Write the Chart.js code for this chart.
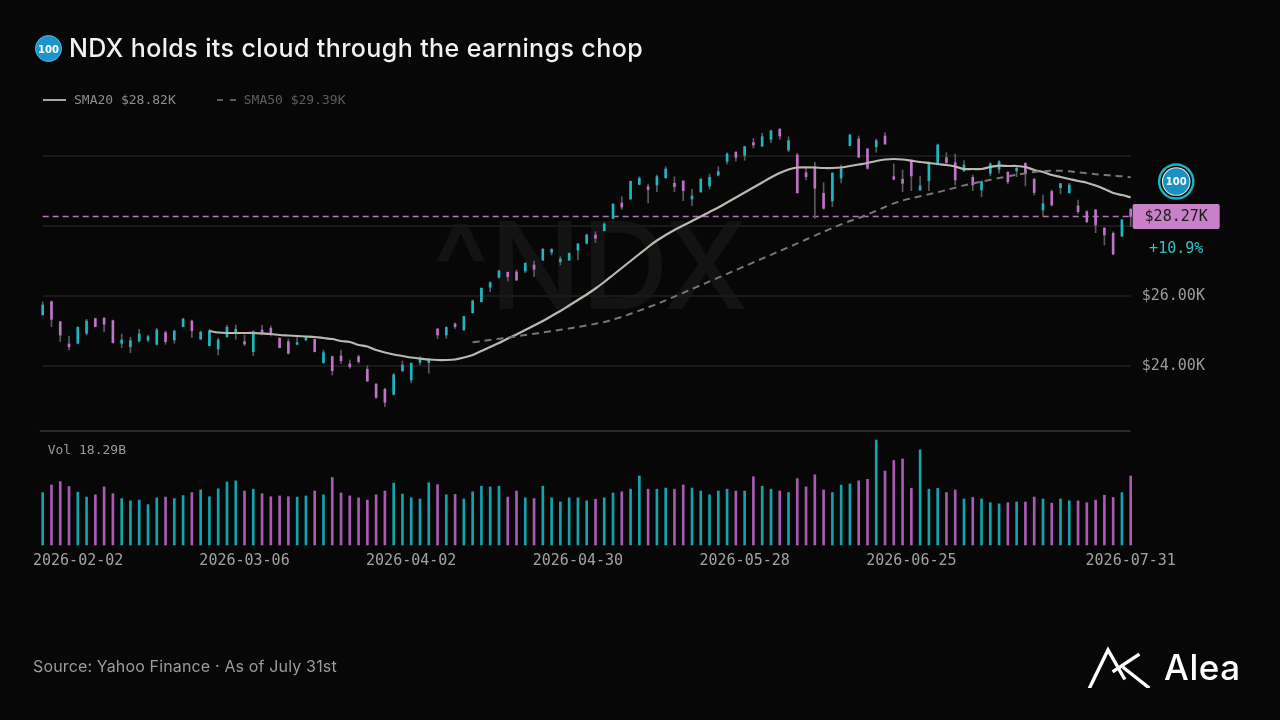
<!DOCTYPE html>
<html>
<head>
<meta charset="utf-8">
<script src="https://cdn.jsdelivr.net/npm/chart.js@4.4.1/dist/chart.umd.min.js"></script>
<style>
  html, body { margin: 0; padding: 0; background: #070707; }
  body { width: 1280px; height: 720px; position: relative; overflow: hidden; font-family: Inter, sans-serif; }
  #wm { position: absolute; left: 432px; top: 205px; font: 500 121px/1 Inter, sans-serif; color: #131313; letter-spacing: 0; }
  #c { position: absolute; left: 0; top: 0; }
  #title { position: absolute; left: 35px; top: 35px; font: 500 25px/25px Inter, sans-serif; letter-spacing: 0.4px; color: #f2f2f2; display: flex; align-items: center; }
  .ico { display: inline-block; width: 27px; height: 27px; border-radius: 50%; background: #1a96cc; border: 1px solid #56b8de;
         color: #fff; font: 700 10px/27px "DejaVu Sans", sans-serif; letter-spacing: 0; text-align: center; margin-right: 7px; box-sizing: border-box; }
  #legend { position: absolute; left: 43px; top: 92px; font: 13px/16px "DejaVu Sans Mono", monospace; display: flex; align-items: center; }
  #legend .sw { display: inline-block; width: 23px; height: 0; margin-right: 8px; }
  #legend .item { display: flex; align-items: center; margin-right: 41px; }
  #source { position: absolute; left: 33px; top: 656px; font: 16px/20px Inter, sans-serif; letter-spacing: 0.15px; color: #9b9b9b; }
  #brand { position: absolute; left: 1086px; top: 645px; display: flex; align-items: center; color: #fff; font: 500 35px/44px Inter, sans-serif; letter-spacing: 0.6px; }
  #brand svg { margin-right: 12px; }
</style>
</head>
<body>
<div id="wm">^NDX</div>
<canvas id="c" width="1280" height="720"></canvas>
<div id="title"><span class="ico">100</span><span id="titleText"></span></div>
<div id="legend"></div>
<div id="source"></div>
<div id="brand"><svg width="66" height="42" viewBox="0 0 66 42"><g stroke="#fff" stroke-width="3.4" fill="none" stroke-linecap="square">
  <path d="M4 41 L22 4 L38 32"/><path d="M28 25 L52 9"/><path d="M38 22 L62 41"/></g></svg>Alea</div>
<script>
"use strict";

var titleText = 'NDX holds its cloud through the earnings chop';
var sourceText = 'Source: Yahoo Finance \u00b7 As of July 31st';
var firstDay = '2026-02-02';
var lastDay = '2026-07-31';
var holidays = ['2026-02-16', '2026-04-03', '2026-05-25', '2026-06-19', '2026-07-03'];
var tickDates = ['2026-02-02', '2026-03-06', '2026-04-02', '2026-04-30', '2026-05-28', '2026-06-25', '2026-07-31'];
var priceTicks = [24000, 26000, 28000, 30000];
var labelledTicks = [24000, 26000];
var periodChange = 10.9;

// OHLC, one value per trading day
var opens = [
	25466, 25837, 25266, 24629, 24649, 24935, 25352, 25363, 25295, 24649,
	24552, 24715, 24743, 24620, 24952, 24743, 25123, 25286, 24772, 24580,
	24486, 24838, 24935, 24695, 24409, 25029, 25077, 24792, 24695, 24620,
	24743, 24763, 24095, 24266, 24286, 24057, 24266, 23906, 23486, 23335,
	23192, 23866, 23600, 24106, 24095, 25057, 24886, 25200, 25040, 25523,
	25837, 26249, 26535, 26677, 26686, 26715, 26886, 27029, 27249, 26980,
	27029, 27314, 27506, 27743, 27866, 28220, 28657, 28772, 29192, 29123,
	29172, 29380, 29220, 29286, 28772, 28980, 29143, 29457, 29849, 30106,
	30020, 30380, 30286, 30477, 30763, 30172, 30029, 29523, 29694, 28934,
	28715, 29372, 30295, 30486, 30200, 30266, 30572, 29409, 29335, 29866,
	29029, 29294, 29792, 29952, 29809, 29580, 29392, 29029, 29506, 29620,
	29534, 29580, 29792, 29335, 28457, 28986, 29094, 28952, 28572, 28409,
	28457, 27934, 27792, 27714, 28477
];
var highs = [
	25837, 25857, 25270, 24857, 25123, 25335, 25366, 25392, 25315, 24915,
	24820, 25049, 24886, 25077, 25000, 25029, 25363, 25315, 25000, 25049,
	24792, 25172, 25172, 24886, 25009, 25172, 25143, 24810, 24772, 24810,
	24838, 24772, 24457, 24286, 24457, 24172, 24315, 24009, 23490, 23363,
	23792, 24143, 24095, 24266, 24220, 25077, 25123, 25237, 25429, 25886,
	26237, 26409, 26743, 26686, 26743, 26952, 26997, 27363, 27352, 27123,
	27237, 27506, 27772, 27837, 28095, 28649, 28837, 29286, 29409, 29200,
	29457, 29694, 29409, 29294, 29049, 29363, 29486, 29694, 30089, 30123,
	30286, 30506, 30649, 30743, 30792, 30552, 30077, 29649, 29820, 29237,
	29534, 29743, 30620, 30572, 30220, 30486, 30666, 29772, 29600, 29886,
	29429, 29837, 30343, 30095, 30057, 29866, 29457, 29294, 29809, 29866,
	29552, 29694, 29809, 29363, 28886, 29029, 29220, 29220, 28743, 28437,
	28477, 27963, 27837, 28192, 28506
];
var lows = [
	25443, 25123, 24695, 24457, 24640, 24886, 25115, 24980, 24649, 24523,
	24380, 24686, 24686, 24600, 24620, 24649, 25115, 24820, 24743, 24572,
	24315, 24820, 24763, 24580, 24300, 24886, 24857, 24515, 24343, 24600,
	24723, 24400, 24077, 23743, 24077, 23935, 24077, 23552, 23077, 22837,
	23172, 23838, 23523, 24029, 23792, 24780, 24792, 25077, 25009, 25506,
	25829, 26123, 26506, 26429, 26437, 26666, 26552, 27009, 27172, 26886,
	27009, 27029, 27486, 27523, 27857, 28200, 28477, 28757, 29172, 28657,
	28980, 29363, 28980, 28723, 28580, 28952, 29057, 29429, 29772, 29849,
	29877, 30229, 30266, 30380, 30477, 30123, 28934, 29315, 28220, 28477,
	28552, 29229, 30286, 29957, 29620, 30106, 30330, 29315, 28980, 29009,
	29015, 29009, 29786, 29792, 29172, 29552, 29009, 28837, 29429, 29506,
	29200, 29409, 29143, 28886, 28286, 28572, 28915, 28934, 28363, 28095,
	27809, 27457, 27172, 27694, 27980
];
var closes = [
	25743, 25335, 24886, 24552, 25106, 25286, 25123, 25192, 24666, 24743,
	24723, 24915, 24838, 25029, 24695, 25000, 25343, 25009, 24963, 25000,
	24743, 25106, 25049, 24629, 24980, 24935, 24935, 24523, 24363, 24666,
	24820, 24409, 24380, 23866, 24152, 23980, 24123, 23572, 23106, 22963,
	23743, 24029, 24077, 24192, 24200, 24886, 25100, 25123, 25409, 25857,
	26220, 26380, 26715, 26552, 26457, 26935, 26763, 27335, 27335, 27057,
	27220, 27486, 27743, 27649, 28057, 28620, 28543, 29277, 29363, 29043,
	29409, 29629, 29123, 29009, 28857, 29335, 29392, 29552, 30060, 29963,
	30266, 30314, 30552, 30715, 30572, 30437, 28952, 29409, 29077, 28506,
	29506, 29629, 30600, 29963, 29649, 30437, 30343, 29335, 29220, 29429,
	29143, 29809, 30314, 29809, 29315, 29743, 29172, 29266, 29772, 29837,
	29266, 29649, 29523, 28957, 28637, 28600, 29209, 29172, 28409, 28123,
	28029, 27743, 27200, 28172, 28270
];

// volume in billions
var volumes = [
	13.9, 15.9, 16.8, 15.5, 14.0, 12.7, 13.3, 15.4, 13.6, 12.3,
	11.7, 11.9, 10.7, 12.5, 12.7, 12.3, 13.1, 13.9, 14.6, 12.8,
	14.9, 16.7, 17.0, 14.3, 14.8, 13.6, 12.8, 13.0, 12.8, 12.7,
	13.0, 14.3, 13.3, 17.9, 13.8, 13.0, 12.5, 11.9, 13.3, 14.3,
	16.4, 13.5, 12.5, 12.2, 16.5, 16.0, 13.3, 13.4, 12.2, 14.1,
	15.6, 15.4, 15.6, 12.7, 14.3, 12.5, 12.3, 15.6, 12.5, 11.4,
	12.5, 12.5, 11.7, 12.1, 12.5, 13.8, 14.1, 14.8, 18.3, 14.8,
	14.8, 15.1, 14.8, 15.9, 15.1, 14.3, 13.3, 14.3, 14.8, 14.3,
	14.3, 18.1, 15.6, 14.8, 14.3, 13.9, 17.6, 15.4, 18.6, 14.6,
	13.9, 15.9, 16.2, 17.0, 17.4, 27.8, 19.6, 22.4, 22.8, 15.0,
	25.2, 14.8, 15.0, 13.9, 14.6, 12.2, 12.6, 12.2, 11.2, 10.9,
	11.2, 11.4, 11.4, 12.7, 12.2, 11.1, 12.2, 11.7, 11.7, 11.2,
	11.9, 13.2, 12.6, 13.9, 18.29
];

// moving averages as drawn (first 19 / 49 days have none)
var sma20 = Array(19).fill(null).concat([
	25000, 24957, 24943, 24943, 24943, 24943, 24929, 24914, 24886, 24872,
	24857, 24843, 24829, 24800, 24771, 24714, 24686, 24600, 24557, 24457,
	24386, 24329, 24286, 24243, 24214, 24186, 24171, 24171, 24186, 24243,
	24314, 24429, 24543, 24657, 24786, 24900, 25029, 25157, 25286, 25429,
	25571, 25729, 25886, 26043, 26214, 26400, 26600, 26800, 27000, 27200,
	27400, 27586, 27743, 27886, 28014, 28143, 28271, 28400, 28529, 28671,
	28814, 28957, 29100, 29243, 29386, 29514, 29614, 29671, 29677, 29671,
	29657, 29657, 29671, 29714, 29757, 29800, 29857, 29900, 29914, 29900,
	29866, 29829, 29800, 29771, 29743, 29700, 29629, 29629, 29629, 29686,
	29723, 29714, 29714, 29686, 29600, 29543, 29457, 29400, 29343, 29286,
	29237, 29157, 29057, 28943, 28886, 28820
]);
var sma50 = Array(49).fill(null).concat([
	24677, 24709, 24743, 24777, 24809, 24846, 24886, 24920, 24957, 24994,
	25034, 25074, 25114, 25157, 25206, 25257, 25329, 25406, 25491, 25583,
	25677, 25771, 25877, 25983, 26091, 26200, 26309, 26417, 26526, 26634,
	26743, 26851, 26960, 27069, 27177, 27286, 27394, 27503, 27614, 27726,
	27834, 27943, 28046, 28143, 28229, 28329, 28437, 28543, 28646, 28729,
	28791, 28851, 28906, 28966, 29029, 29094, 29160, 29214, 29269, 29320,
	29369, 29417, 29463, 29509, 29543, 29566, 29577, 29580, 29563, 29534,
	29506, 29480, 29457, 29437, 29420, 29390
]);

var upColor = '#1cb8c1';
var downColor = '#c071c9';
var upVol = '#14a3ab';
var downVol = '#a95bb3';
var wickColor = '#5b5b5b';
var panelFloor = 22140; // price where the candle panel ends

function tradingDays(start, end, skip) {
	var out = [];
	var d = new Date(start + 'T00:00:00Z');
	var stop = new Date(end + 'T00:00:00Z');
	while (d <= stop) {
		var iso = d.toISOString().slice(0, 10);
		var wd = d.getUTCDay();
		if (wd !== 0 && wd !== 6 && skip.indexOf(iso) < 0) out.push(iso);
		d.setUTCDate(d.getUTCDate() + 1);
	}
	return out;
}

function kFmt(v) {
	return '$' + (v / 1000).toFixed(2) + 'K';
}

var dates = tradingDays(firstDay, lastDay, holidays);
var lastClose = closes[closes.length - 1];
var isUp = closes.map(function (c, i) { return c >= opens[i]; });

// text outside the plot
document.getElementById('titleText').textContent = titleText;
document.getElementById('source').textContent = sourceText;
document.getElementById('legend').innerHTML =
	'<span class="item" style="color:#8e8e8e"><span class="sw" style="border-top:2px solid #a9a6a0"></span>SMA20 ' + kFmt(sma20[sma20.length - 1]) + '</span>' +
	'<span class="item" style="color:#5e5e5e"><span class="sw" style="border-top:2px dashed #5e5e5e;width:19px"></span>SMA50 ' + kFmt(sma50[sma50.length - 1]) + '</span>';

var overlay = {
	id: 'overlay',
	beforeDatasetsDraw: function (chart) {
		var ctx = chart.ctx, a = chart.chartArea, y = chart.scales.y;
		ctx.save();
		var sy = y.getPixelForValue(panelFloor);
		ctx.strokeStyle = '#2b2b2b';
		ctx.lineWidth = 2;
		ctx.beginPath(); ctx.moveTo(a.left - 3, sy); ctx.lineTo(a.right, sy); ctx.stroke();

		var cy = y.getPixelForValue(lastClose);
		ctx.strokeStyle = 'rgba(200,128,200,0.9)';
		ctx.lineWidth = 1.5;
		ctx.setLineDash([6, 4]);
		ctx.beginPath(); ctx.moveTo(a.left, cy); ctx.lineTo(a.right, cy); ctx.stroke();
		ctx.restore();
	},
	afterDraw: function (chart) {
		var ctx = chart.ctx, a = chart.chartArea, x = chart.scales.x, y = chart.scales.y;
		var mono = '"DejaVu Sans Mono", monospace';
		ctx.save();

		// volume readout
		ctx.font = '13px ' + mono;
		ctx.fillStyle = '#9a9a9a';
		ctx.textBaseline = 'middle';
		ctx.textAlign = 'left';
		ctx.fillText('Vol ' + volumes[volumes.length - 1].toFixed(2) + 'B', a.left + 5, y.getPixelForValue(panelFloor) + 20);

		// date ticks
		ctx.font = '15px ' + mono;
		ctx.fillStyle = '#a2a2a2';
		tickDates.forEach(function (d) {
			var px = x.getPixelForValue(dates.indexOf(d));
			var w = ctx.measureText(d).width;
			var left = Math.max(px - w / 2, 33);
			ctx.fillText(d, left, a.bottom + 16);
		});

		// last price tag
		var cy = y.getPixelForValue(lastClose);
		var tx = a.right + 2, tw = 87, th = 25;
		var mid = tx + tw / 2;
		ctx.fillStyle = '#c880c8';
		ctx.beginPath();
		ctx.roundRect(tx, cy - th / 2, tw, th, 2);
		ctx.fill();
		ctx.fillStyle = '#1c1c1c';
		ctx.textAlign = 'center';
		ctx.fillText(kFmt(lastClose), mid, cy + 1);

		ctx.fillStyle = '#2ec3c8';
		ctx.fillText('+' + periodChange.toFixed(1) + '%', mid, cy + 33);

		// ticker badge
		var by = cy - 35;
		[[18.3, '#1cb3c2'], [15.8, '#070707'], [14.3, '#e6e6e6'], [13.2, '#1a90c4']].forEach(function (r) {
			ctx.fillStyle = r[1];
			ctx.beginPath(); ctx.arc(mid, by, r[0], 0, Math.PI * 2); ctx.fill();
		});
		ctx.fillStyle = '#ffffff';
		ctx.font = 'bold 10px "DejaVu Sans", sans-serif';
		ctx.fillText('100', mid, by + 1);
		ctx.restore();
	}
};

var chart = new Chart(document.getElementById('c'), {
	type: 'bar',
	data: {
		labels: dates,
		datasets: [
			{
				type: 'line',
				label: 'SMA20',
				data: sma20,
				borderColor: '#bcb8b0',
				borderWidth: 2.2,
				pointRadius: 0,
				tension: 0.3,
				yAxisID: 'y',
				order: 1
			},
			{
				type: 'line',
				label: 'SMA50',
				data: sma50,
				borderColor: '#777777',
				borderWidth: 2,
				borderDash: [7, 5],
				pointRadius: 0,
				tension: 0.3,
				yAxisID: 'y',
				order: 0
			},
			{
				label: 'body',
				data: opens.map(function (o, i) { return [o, closes[i]]; }),
				backgroundColor: isUp.map(function (u) { return u ? upColor : downColor; }),
				barThickness: 2,
				grouped: false,
				clip: false,
				yAxisID: 'y',
				order: 2
			},
			{
				label: 'wick',
				data: lows.map(function (l, i) { return [l, highs[i]]; }),
				backgroundColor: wickColor,
				barThickness: 1,
				grouped: false,
				clip: false,
				yAxisID: 'y',
				order: 3
			},
			{
				label: 'volume',
				data: volumes,
				backgroundColor: isUp.map(function (u) { return u ? upVol : downVol; }),
				barThickness: 2,
				grouped: false,
				clip: false,
				yAxisID: 'yv',
				order: 4
			}
		]
	},
	options: {
		responsive: false,
		animation: false,
		devicePixelRatio: 1,
		layout: { padding: { left: 42.7, top: 110, right: 0, bottom: 175 } },
		plugins: { legend: { display: false }, tooltip: { enabled: false } },
		scales: {
			x: { type: 'category', offset: false, display: false, grid: { offset: false } },
			y: {
				position: 'right',
				min: 18885.7,
				max: 31314.3,
				afterBuildTicks: function (s) { s.ticks = priceTicks.map(function (v) { return { value: v }; }); },
				afterFit: function (s) { s.width = 1280 - 1130.7; },
				grid: { color: '#191919', lineWidth: 2, drawTicks: false },
				border: { display: false },
				ticks: {
					padding: 11,
					color: '#9c9c9c',
					font: { family: 'DejaVu Sans Mono', size: 15 },
					callback: function (v) { return labelledTicks.indexOf(v) >= 0 ? kFmt(v) : ''; }
				}
			},
			yv: { display: false, min: 0, max: 115.3 }
		}
	},
	plugins: [overlay]
});
</script>
</body>
</html>
